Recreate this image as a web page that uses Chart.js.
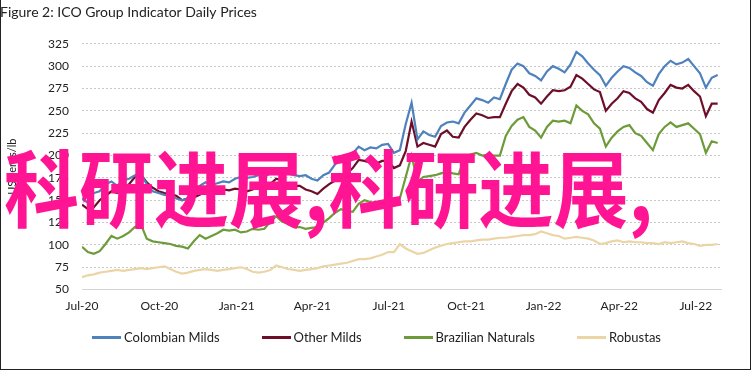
<!DOCTYPE html>
<html>
<head>
<meta charset="utf-8">
<script src="https://cdn.jsdelivr.net/npm/chart.js@4/dist/chart.umd.min.js"></script>
<style>
  body { margin: 0; background: #fff; }
  #wrap { position: relative; width: 751px; height: 370px; font-family: Lato, "Open Sans", sans-serif; }
  #frame { position: absolute; left: 0; top: 0; width: 751px; height: 370px; box-sizing: border-box;
           border-left: 1px solid #222; border-right: 1px solid #222; border-bottom: 1px solid #222; pointer-events: none; }
  #legend { position: absolute; left: 92px; top: 329px; display: flex; font-size: 13px; color: #222; }
  #legend .item { display: flex; align-items: center; margin-right: 42px; }
  #legend .swatch { width: 29px; height: 3px; margin-right: 3px; }
  #mark { position: absolute; left: 4px; top: 143px; font-family: "Noto Sans CJK SC"; font-weight: bold;
          font-size: 75px; line-height: 1; color: #ff1493; white-space: nowrap;
          transform: scaleY(1.12); transform-origin: 0 0; }
</style>
</head>
<body>
<div id="wrap">
  <canvas id="pricesChart" width="751" height="370"></canvas>
  <div id="legend"></div>
  <div id="mark">科研进展,科研进展,</div>
  <div id="frame"></div>
</div>
<script>
// weekly readings, starting 1 Jul 2020 (day 0)
const colombianMilds = [
  152, 147, 158, 160, 168, 171, 166, 172, 174, 178, 179, 168, 160, 158, 156, 155, 152, 150, 152, 158,
  166, 170, 167, 169, 171, 170, 174, 176, 175, 176, 178, 176, 180, 184, 183, 180, 178, 177, 178, 174,
  172, 178, 181, 190, 198, 193, 202, 210, 206, 209, 208, 212, 213, 203, 206, 235, 259, 218, 227, 223,
  221, 233, 237, 238, 236, 248, 256, 264, 262, 259, 265, 263, 280, 296, 303, 300, 292, 289, 284, 294,
  300, 297, 293, 302, 316, 311, 303, 296, 290, 278, 287, 294, 300, 298, 293, 289, 282, 278, 291, 300,
  306, 302, 304, 308, 300, 292, 276, 287, 290
];
const otherMilds = [
  145, 140, 142, 150, 155, 160, 158, 164, 168, 176, 179, 170, 164, 160, 158, 157, 155, 150, 152, 153,
  156, 160, 158, 160, 162, 161, 163, 162, 160, 162, 165, 166, 168, 174, 172, 168, 166, 166, 162, 160,
  157, 163, 168, 172, 178, 180, 186, 195, 194, 192, 191, 194, 194, 186, 189, 205, 238, 210, 214, 212,
  210, 224, 228, 221, 220, 232, 240, 247, 245, 242, 243, 243, 258, 272, 280, 276, 268, 265, 258, 266,
  273, 272, 273, 277, 290, 286, 280, 274, 271, 250, 258, 264, 272, 270, 264, 260, 252, 248, 262, 270,
  279, 276, 275, 279, 272, 266, 244, 258, 258
];
const brazilianNaturals = [
  98, 92, 90, 93, 101, 110, 107, 110, 114, 120, 123, 107, 104, 103, 102, 101, 99, 98, 96, 104,
  111, 107, 110, 113, 117, 116, 117, 114, 115, 118, 117, 118, 126, 132, 126, 124, 120, 120, 118, 119,
  120, 125, 130, 136, 140, 138, 137, 146, 150, 148, 145, 146, 148, 146, 152, 176, 200, 171, 176, 177,
  178, 180, 182, 180, 179, 198, 201, 203, 200, 201, 200, 200, 222, 233, 240, 243, 232, 228, 220, 232,
  239, 238, 239, 236, 256, 250, 246, 236, 230, 210, 220, 227, 232, 234, 225, 222, 214, 206, 224, 232,
  237, 232, 234, 236, 230, 224, 203, 216, 214
];
const robustas = [
  64, 66, 67, 69, 70, 71, 72, 71, 72, 73, 74, 73, 74, 75, 76, 73, 70, 68, 69, 71,
  72, 73, 72, 71, 72, 73, 74, 75, 73, 70, 69, 70, 72, 77, 75, 73, 72, 71, 72, 73,
  74, 76, 77, 78, 79, 80, 82, 84, 84, 85, 87, 89, 92, 92, 101, 96, 93, 90, 91, 94,
  97, 99, 101, 102, 103, 104, 104, 105, 106, 106, 107, 108, 108, 109, 110, 111, 111, 112, 115, 113,
  111, 110, 107, 108, 109, 108, 107, 105, 101, 102, 104, 105, 103, 104, 103, 103, 102, 102, 101, 103,
  102, 103, 104, 102, 101, 99, 100, 100, 101
];

const tickDays = [0, 92, 184, 274, 365, 457, 549, 639, 730];
const tickLabels = ['Jul-20', 'Oct-20', 'Jan-21', 'Apr-21', 'Jul-21', 'Oct-21', 'Jan-22', 'Apr-22', 'Jul-22'];

const seriesNames = ['Colombian Milds', 'Other Milds', 'Brazilian Naturals', 'Robustas'];
const seriesColors = ['#4f81bd', '#6e0f2a', '#6d9b3a', '#ebd5a5'];

const toPoints = arr => arr.map((v, i) => ({ x: i * 7, y: v }));
const allSeries = [colombianMilds, otherMilds, brazilianNaturals, robustas];

const datasets = allSeries.map((arr, i) => ({
    label: seriesNames[i],
    data: toPoints(arr),
    borderColor: seriesColors[i],
    backgroundColor: seriesColors[i],
    borderWidth: 2.2,
    pointRadius: 0,
    tension: 0
}));

const ctx = document.getElementById('pricesChart');

new Chart(ctx, {
    type: 'line',
    data: { datasets: datasets },
    options: {
        responsive: false,
        animation: false,
        layout: { padding: { left: 0, right: 30, top: 0, bottom: 48 } },
        plugins: {
            legend: { display: false },
            tooltip: { enabled: false },
            title: {
                display: true,
                text: 'Figure 2: ICO Group Indicator Daily Prices',
                align: 'start',
                color: '#222',
                font: { family: 'Lato', size: 14, weight: 'normal' },
                padding: { top: 4, bottom: 23 }
            }
        },
        scales: {
            x: {
                type: 'linear',
                min: 0,
                max: 760,
                grid: { display: false, drawTicks: false },
                border: { display: true, color: '#d4d4d4', width: 1 },
                afterBuildTicks: axis => { axis.ticks = tickDays.map(d => ({ value: d })); },
                ticks: {
                    autoSkip: false,
                    maxRotation: 0,
                    padding: 9,
                    color: '#222',
                    font: { family: 'Lato', size: 12 },
                    callback: (value, index) => tickLabels[index]
                }
            },
            y: {
                min: 50,
                max: 325,
                afterFit: axis => { axis.width = 82; },
                grid: { color: '#c8c8c8', lineWidth: 1, drawTicks: false },
                border: { display: false, dash: [2, 2] },
                ticks: {
                    stepSize: 25,
                    padding: 13,
                    color: '#222',
                    font: { family: 'Lato', size: 12 }
                },
                title: {
                    display: true,
                    text: 'US cents/lb',
                    color: '#222',
                    font: { family: 'Lato', size: 11 },
                    padding: { top: 6, bottom: 0 }
                }
            }
        }
    }
});

// html legend from the same names/colours
const legendBox = document.getElementById('legend');
seriesNames.forEach((name, i) => {
    const item = document.createElement('div');
    item.className = 'item';
    const sw = document.createElement('span');
    sw.className = 'swatch';
    sw.style.background = seriesColors[i];
    const txt = document.createElement('span');
    txt.textContent = name;
    item.appendChild(sw);
    item.appendChild(txt);
    legendBox.appendChild(item);
});
</script>
</body>
</html>
